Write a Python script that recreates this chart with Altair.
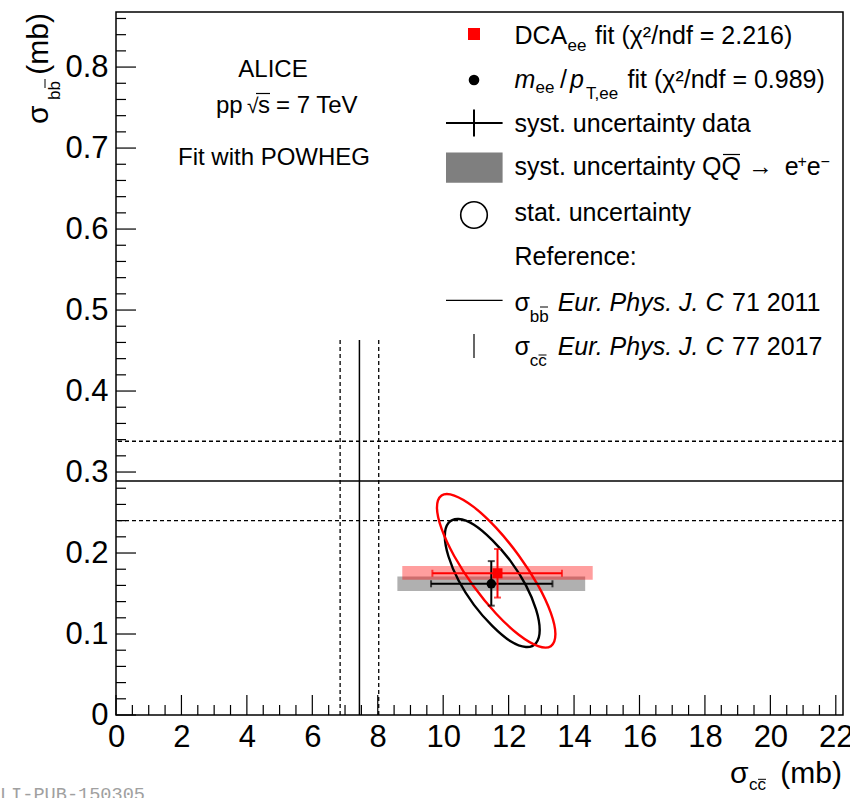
import altair as alt
import pandas as pd

FONT = "Liberation Sans"

# ---------------- values ----------------
x_tick_labels = [0, 2, 4, 6, 8, 10, 12, 14, 16, 18, 20, 22]
y_tick_labels = [0, 0.1, 0.2, 0.3, 0.4, 0.5, 0.6, 0.7, 0.8]

# reference sigma_bb (Eur. Phys. J. C 71 2011): central value and band edges
ref_bb = [0.289]
ref_bb_band = [0.240, 0.338]
# reference sigma_cc (Eur. Phys. J. C 77 2017)
ref_cc = [7.44]
ref_cc_band = [6.85, 8.03]
ref_cc_top = 0.463

fits = ["DCA_ee", "mee_ptee"]
fit_colors = ["#ff0000", "#000000"]
fit_cc = [11.66, 11.47]
fit_bb = [0.175, 0.162]
syst_cc_lo = [9.67, 9.63]
syst_cc_hi = [13.63, 13.34]
syst_bb_lo = [0.145, 0.135]
syst_bb_hi = [0.205, 0.190]
qq_cc_lo = [8.75, 8.60]
qq_cc_hi = [14.57, 14.34]
qq_bb_lo = [0.167, 0.153]
qq_bb_hi = [0.184, 0.171]

# stat. uncertainty contours: points read along each ellipse
ell_dca_cc = [13.43, 13.29, 12.90, 12.31, 11.62, 10.93, 10.34, 9.95, 9.81, 9.95, 10.34, 10.93, 11.62, 12.31, 12.90, 13.29]
ell_dca_bb = [0.100, 0.126, 0.160, 0.197, 0.231, 0.257, 0.271, 0.271, 0.256, 0.230, 0.196, 0.159, 0.125, 0.099, 0.085, 0.085]
ell_mee_cc = [12.95, 12.84, 12.53, 12.06, 11.50, 10.94, 10.47, 10.16, 10.05, 10.16, 10.47, 10.94, 11.50, 12.06, 12.53, 12.84]
ell_mee_bb = [0.105, 0.130, 0.160, 0.190, 0.216, 0.235, 0.242, 0.237, 0.221, 0.196, 0.166, 0.136, 0.110, 0.091, 0.084, 0.089]

# ---------------- layout ----------------
W, H = 727, 703
OX, OY = 116, 12          # page position of plot origin
MAJ, MIN = 20, 10         # tick lengths (inside frame)

xs = alt.Scale(domain=[0, 22.22], nice=False, zero=False)
ys = alt.Scale(domain=[0, 0.868], nice=False, zero=False)
xaxis = alt.Axis(values=x_tick_labels, format="d", title=None, ticks=False, domain=False, grid=False,
                 labelFont=FONT, labelFontSize=31, labelColor="black", labelPadding=7,
                 labelFlush=False, labelOverlap=False)
yaxis = alt.Axis(values=y_tick_labels, format="~g", title=None, ticks=False, domain=False, grid=False,
                 labelFont=FONT, labelFontSize=31, labelColor="black", labelPadding=8,
                 labelFlush=False, labelOverlap=False)


def X(f):
    return alt.X(f, type="quantitative", scale=xs, axis=xaxis)


def Y(f):
    return alt.Y(f, type="quantitative", scale=ys, axis=yaxis)


one = pd.DataFrame({"k": [0]})


def txt(s, x, y, size, italic=False, align="left", color="black", angle=None, font=FONT):
    kw = dict(text=s, fontSize=size, align=align, baseline="alphabetic", color=color, font=font)
    if italic:
        kw["fontStyle"] = "italic"
    if angle is not None:
        kw["angle"] = angle
    return alt.Chart(one).mark_text(**kw).encode(x=alt.value(x - OX), y=alt.value(y - OY))


def hseg(x1, x2, y, w=1.0, color="black"):
    return alt.Chart(one).mark_rule(strokeWidth=w, color=color).encode(
        x=alt.value(x1 - OX), x2=alt.value(x2 - OX), y=alt.value(y - OY))


def vseg(x, y1, y2, w=1.0, color="black"):
    return alt.Chart(one).mark_rule(strokeWidth=w, color=color).encode(
        x=alt.value(x - OX), y=alt.value(y1 - OY), y2=alt.value(y2 - OY))


layers = []

# ---- inside ticks ----
xt_major = pd.DataFrame({"v": x_tick_labels})
xt_minor = pd.DataFrame({"v": [i * 0.5 for i in range(45) if i % 4 != 0]})
yt_major = pd.DataFrame({"v": y_tick_labels})
yt_minor = pd.DataFrame({"v": [round(i * 0.02, 2) for i in range(44) if i % 5 != 0]})
layers.append(alt.Chart(xt_major).mark_rule(color="black", strokeWidth=1.2).encode(
    x=X("v"), y=alt.value(H), y2=alt.value(H - MAJ)))
layers.append(alt.Chart(xt_minor).mark_rule(color="black", strokeWidth=1.2).encode(
    x=X("v"), y=alt.value(H), y2=alt.value(H - MIN)))
layers.append(alt.Chart(yt_major).mark_rule(color="black", strokeWidth=1.2).encode(
    y=Y("v"), x=alt.value(0), x2=alt.value(MAJ)))
layers.append(alt.Chart(yt_minor).mark_rule(color="black", strokeWidth=1.2).encode(
    y=Y("v"), x=alt.value(0), x2=alt.value(MIN)))

# ---- reference lines ----
layers.append(alt.Chart(pd.DataFrame({"v": ref_bb})).mark_rule(color="black", strokeWidth=1.5).encode(y=Y("v")))
layers.append(alt.Chart(pd.DataFrame({"v": ref_bb_band})).mark_rule(
    color="black", strokeWidth=1.3, strokeDash=[4, 3]).encode(y=Y("v")))
cc_df = pd.DataFrame({"v": ref_cc, "lo": [0.0] * len(ref_cc), "hi": [ref_cc_top] * len(ref_cc)})
ccb_df = pd.DataFrame({"v": ref_cc_band, "lo": [0.0] * 2, "hi": [ref_cc_top] * 2})
layers.append(alt.Chart(cc_df).mark_rule(color="black", strokeWidth=1.5).encode(x=X("v"), y=Y("lo"), y2="hi"))
layers.append(alt.Chart(ccb_df).mark_rule(color="black", strokeWidth=1.3, strokeDash=[4, 3]).encode(
    x=X("v"), y=Y("lo"), y2="hi"))

# ---- fit results ----
fit_df = pd.DataFrame(dict(fit=fits, color=fit_colors, cc=fit_cc, bb=fit_bb,
                           scl=syst_cc_lo, sch=syst_cc_hi, sbl=syst_bb_lo, sbh=syst_bb_hi,
                           qcl=qq_cc_lo, qch=qq_cc_hi, qbl=qq_bb_lo, qbh=qq_bb_hi))
dca = fit_df[fit_df.fit == "DCA_ee"]
mee = fit_df[fit_df.fit == "mee_ptee"]

# syst. QQ -> ee bands
layers.append(alt.Chart(mee).mark_rect(color="#7f7f7f", opacity=0.62).encode(
    x=X("qcl"), x2="qch", y=Y("qbl"), y2="qbh"))
layers.append(alt.Chart(dca).mark_rect(color="#ff0000", opacity=0.38).encode(
    x=X("qcl"), x2="qch", y=Y("qbl"), y2="qbh"))

# stat. ellipses
ell_mee = pd.DataFrame({"i": range(len(ell_mee_cc)), "cc": ell_mee_cc, "bb": ell_mee_bb})
ell_dca = pd.DataFrame({"i": range(len(ell_dca_cc)), "cc": ell_dca_cc, "bb": ell_dca_bb})
layers.append(alt.Chart(ell_mee).mark_line(color="black", strokeWidth=2.4, interpolate="cardinal-closed").encode(
    x=X("cc"), y=Y("bb"), order=alt.Order("i:Q")))
layers.append(alt.Chart(ell_dca).mark_line(color="#ff0000", strokeWidth=2.4, interpolate="cardinal-closed").encode(
    x=X("cc"), y=Y("bb"), order=alt.Order("i:Q")))

# syst. data error bars
for sub, col in [(mee, "black"), (dca, "#ff0000")]:
    layers.append(alt.Chart(sub).mark_rule(color=col, strokeWidth=2).encode(x=X("scl"), x2="sch", y=Y("bb")))
    layers.append(alt.Chart(sub).mark_rule(color=col, strokeWidth=2).encode(x=X("cc"), y=Y("sbl"), y2="sbh"))
    for fx in ["scl", "sch"]:
        layers.append(alt.Chart(sub).mark_tick(color=col, orient="vertical", size=7, thickness=2).encode(
            x=X(fx), y=Y("bb")))
    for fy in ["sbl", "sbh"]:
        layers.append(alt.Chart(sub).mark_tick(color=col, orient="horizontal", size=7, thickness=2).encode(
            x=X("cc"), y=Y(fy)))

# markers
layers.append(alt.Chart(mee).mark_point(shape="circle", filled=True, size=90, color="black", opacity=1).encode(
    x=X("cc"), y=Y("bb")))
layers.append(alt.Chart(dca).mark_point(shape="square", filled=True, size=100, color="#ff0000", opacity=1).encode(
    x=X("cc"), y=Y("bb")))

# ---- top-left annotation ----
layers.append(txt("ALICE", 273, 77, 24, align="center"))
layers.append(txt("pp", 216, 113, 24))
layers.append(txt("\u221a", 247, 113, 21))
layers.append(hseg(256, 270, 93.5, 1.2))
layers.append(txt("s", 258, 113, 24))
layers.append(txt("= 7 TeV", 276, 113, 24))
layers.append(txt("Fit with POWHEG", 274, 165, 24, align="center"))

# ---- legend ----
LX = 514.5
SX = 474
# row 1
layers.append(alt.Chart(one).mark_point(shape="square", filled=True, size=144, color="#ff0000", opacity=1).encode(
    x=alt.value(SX - OX), y=alt.value(34 - OY)))
layers.append(txt("DCA", LX, 43.6, 25))
layers.append(txt("ee", 567.5, 50.5, 17))
layers.append(txt("fit (\u03c7\u00b2/ndf = 2.216)", 595, 43.6, 25))
# row 2
layers.append(alt.Chart(one).mark_point(shape="circle", filled=True, size=113, color="black", opacity=1).encode(
    x=alt.value(SX - OX), y=alt.value(80 - OY)))
layers.append(txt("m", LX, 87.6, 25, italic=True))
layers.append(txt("ee", 535.5, 92.6, 17))
layers.append(txt("/", 560, 87.6, 25))
layers.append(txt("p", 570, 87.6, 25, italic=True))
layers.append(txt("T,ee", 586, 99.4, 17))
layers.append(txt("fit (\u03c7\u00b2/ndf = 0.989)", 627.6, 87.6, 25))
# row 3
layers.append(hseg(446, 502.6, 123, 2.0))
layers.append(vseg(SX, 109.5, 136.5, 2.0))
layers.append(txt("syst. uncertainty data", LX, 131.5, 25))
# row 4
layers.append(alt.Chart(one).mark_rect(color="#7f7f7f").encode(
    x=alt.value(446 - OX), x2=alt.value(502.6 - OX), y=alt.value(152.4 - OY), y2=alt.value(182.8 - OY)))
layers.append(txt("syst. uncertainty QQ", LX, 175.4, 25))
layers.append(hseg(723, 740, 154.5, 1.2))
layers.append(txt("\u2192", 748, 175.4, 25))
layers.append(txt("e", 784.7, 175.4, 25))
layers.append(txt("+", 797.5, 167, 16))
layers.append(txt("e", 806.7, 175.4, 25))
layers.append(txt("\u2212", 820.5, 167, 16))
# row 5
layers.append(alt.Chart(one).mark_point(shape="circle", filled=False, size=707, color="black", strokeWidth=1.6,
                                        opacity=1).encode(x=alt.value(SX - OX), y=alt.value(215 - OY)))
layers.append(txt("stat. uncertainty", LX, 221, 25))
# row 6
layers.append(txt("Reference:", LX, 265, 25))
# row 7
layers.append(hseg(446, 502.6, 300.4, 1.2))
layers.append(txt("\u03c3", LX, 310.5, 25))
layers.append(txt("bb", 529.7, 322, 17))
layers.append(hseg(540, 548, 307, 1.0))
layers.append(txt("Eur. Phys. J. C", 557.7, 310.5, 25, italic=True))
layers.append(txt("71 2011", 732, 310.5, 25))
# row 8
layers.append(vseg(SX, 334, 358, 1.2))
layers.append(txt("\u03c3", LX, 354.5, 25))
layers.append(txt("cc", 529.7, 366, 17))
layers.append(hseg(538.5, 546.5, 355, 1.0))
layers.append(txt("Eur. Phys. J. C", 557.7, 354.5, 25, italic=True))
layers.append(txt("77 2017", 732, 354.5, 25))

# ---- axis titles ----
layers.append(txt("\u03c3", 730, 783, 30))
layers.append(txt("cc", 749, 790, 17))
layers.append(hseg(758, 766, 779.3, 1.0))
layers.append(txt("(mb)", 842, 783, 30, align="right"))

layers.append(txt("\u03c3", 48, 124, 30, angle=270))
layers.append(txt("bb", 60, 100, 17, angle=270))
layers.append(vseg(45, 79, 88, 1.0))
layers.append(txt("(mb)", 48, 13, 30, angle=270, align="right"))

# ---- watermark ----
layers.append(txt("ALI-PUB-150305", 145, 800, 18.6, align="right", color="#a0a0a0", font="Liberation Mono"))

chart = alt.layer(*layers).properties(
    width=W, height=H,
    padding={"left": OX, "top": OY, "right": 850 - OX - W, "bottom": 798 - OY - H},
    autosize=alt.AutoSizeParams(type="none"),
    background="white",
).configure_view(stroke="black", strokeWidth=1.5)

chart.save("out.html", embed_options={"renderer": "svg", "actions": False})
